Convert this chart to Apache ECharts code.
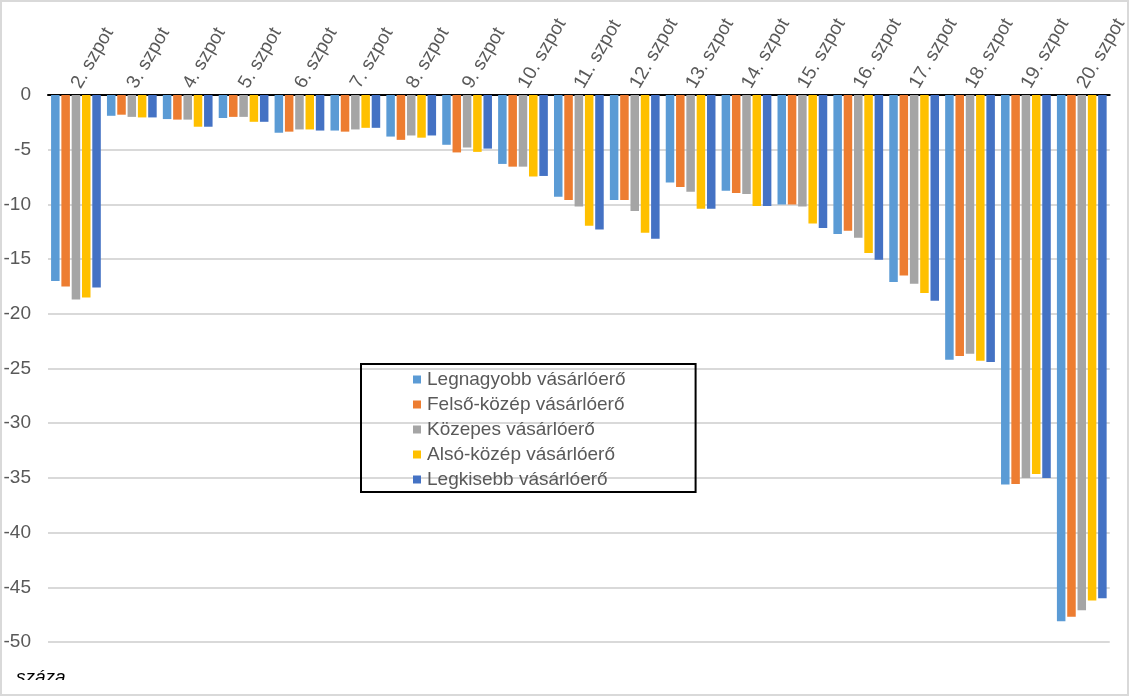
<!DOCTYPE html>
<html>
<head>
<meta charset="utf-8">
<script src="https://cdn.jsdelivr.net/npm/echarts@6/dist/echarts.min.js"></script>
<style>
  html, body { margin: 0; padding: 0; background: #fff; }
  #chart { width: 1130px; height: 697px; }
</style>
</head>
<body>
<div id="chart"></div>
<script>
// categories and series values
const categories = ['2. szpot', '3. szpot', '4. szpot', '5. szpot', '6. szpot', '7. szpot', '8. szpot', '9. szpot', '10. szpot',
  '11. szpot', '12. szpot', '13. szpot', '14. szpot', '15. szpot', '16. szpot', '17. szpot', '18. szpot', '19. szpot', '20. szpot']
const seriesNames = ['Legnagyobb vásárlóerő', 'Felső-közép vásárlóerő', 'Közepes vásárlóerő', 'Alsó-közép vásárlóerő', 'Legkisebb vásárlóerő']
const legnagyobb = [-17.0, -1.9, -2.2, -2.1, -3.45, -3.25, -3.8, -4.55, -6.3, -9.3, -9.6, -8.0, -8.75, -10.0, -12.7, -17.1, -24.2, -35.6, -48.1]
const felsoKozep = [-17.5, -1.8, -2.25, -2.0, -3.35, -3.35, -4.1, -5.25, -6.55, -9.6, -9.6, -8.4, -8.95, -10.0, -12.4, -16.5, -23.85, -35.55, -47.7]
const kozepes = [-18.7, -2.0, -2.25, -2.0, -3.15, -3.15, -3.7, -4.8, -6.55, -10.2, -10.6, -8.85, -9.05, -10.2, -13.05, -17.25, -23.65, -35.0, -47.1]
const alsoKozep = [-18.5, -2.05, -2.9, -2.45, -3.15, -3.0, -3.9, -5.2, -7.45, -11.95, -12.6, -10.4, -10.15, -11.75, -14.45, -18.1, -24.3, -34.65, -46.2]
const legkisebb = [-17.6, -2.05, -2.9, -2.45, -3.25, -3.0, -3.7, -4.9, -7.4, -12.3, -13.15, -10.4, -10.15, -12.15, -15.05, -18.8, -24.4, -35.0, -46.0]
const colors = ['#5B9BD5', '#ED7D31', '#A5A5A5', '#FFC000', '#4472C4']

const chart = echarts.init(document.getElementById('chart'))
const values = [legnagyobb, felsoKozep, kozepes, alsoKozep, legkisebb]
const fontFamily = 'Liberation Sans, Arial, sans-serif'

const option = {
  animation: false,
  color: colors,
  textStyle: { fontFamily: fontFamily },
  grid: { left: 48, right: 18, top: 95, bottom: 55 },
  legend: {
    orient: 'vertical',
    left: 361,
    top: 364,
    padding: [6, 70, 3, 52],
    itemGap: 6,
    itemWidth: 8,
    itemHeight: 8,
    icon: 'rect',
    borderColor: '#000',
    borderWidth: 2,
    textStyle: { fontSize: 19, lineHeight: 19, color: '#595959', padding: [0, 0, 0, 1] },
    data: seriesNames
  },
  xAxis: {
    type: 'category',
    position: 'top',
    data: categories,
    axisLine: { lineStyle: { color: '#000', width: 2 } },
    axisTick: { show: false },
    axisLabel: { interval: 0, rotate: 60, fontSize: 19, color: '#595959', margin: 8 }
  },
  yAxis: {
    type: 'value',
    min: -50,
    max: 0,
    interval: 5,
    axisLine: { show: false },
    axisTick: { show: false },
    splitLine: { lineStyle: { color: '#d9d9d9', width: 2 } },
    axisLabel: { fontSize: 19, color: '#595959', margin: 17 }
  },
  series: seriesNames.map((name, i) => ({
    name: name,
    type: 'bar',
    data: values[i],
    barGap: '21%',
    barCategoryGap: '11%'
  })),
  graphic: [
    {
      type: 'rect',
      shape: { x: 1, y: 1, width: 1127, height: 694 },
      style: { fill: null, stroke: '#d9d9d9', lineWidth: 2 },
      z: 100
    },
    {
      type: 'text',
      left: 16,
      top: 668,
      style: { text: 'száza', fontSize: 19, fontStyle: 'italic', fill: '#000', fontFamily: fontFamily },
      z: 90
    },
    {
      type: 'rect',
      shape: { x: 2, y: 680, width: 200, height: 14 },
      style: { fill: '#fff' },
      z: 95
    }
  ]
}

chart.setOption(option)
</script>
</body>
</html>
